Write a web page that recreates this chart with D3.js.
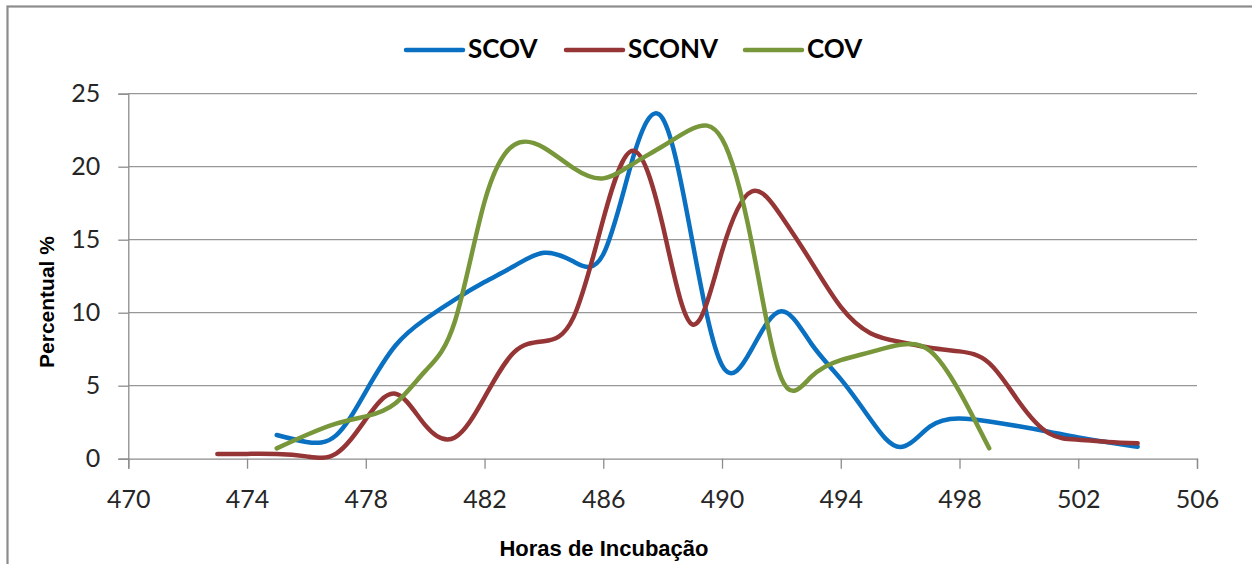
<!DOCTYPE html>
<html>
<head>
<meta charset="utf-8">
<script src="https://cdn.jsdelivr.net/npm/d3@7"></script>
<style>
  html, body { margin: 0; padding: 0; background: #ffffff; }
  svg { display: block; }
</style>
</head>
<body>
<svg id="chart" width="1252" height="564"></svg>
<script>
// Hours of incubation sampled for each group
const sconvHours = [473, 474, 475, 476, 477, 478, 479, 480, 481, 482, 483, 484, 485, 486, 487, 488,
                    489, 490, 491, 492, 493, 494, 495, 496, 497, 498, 499, 500, 501, 502, 503, 504];
const scovHours  = [475, 476, 477, 478, 479, 480, 481, 482, 483, 484, 485, 486, 487, 488, 489, 490,
                    491, 492, 493, 494, 495, 496, 497, 498, 499, 500, 501, 502, 503, 504];
const covHours   = [475, 476, 477, 478, 479, 480, 481, 482, 483, 484, 485, 486, 487, 488, 489, 490,
                    491, 492, 493, 494, 495, 496, 497, 498, 499];

// Percentage hatched at each hour
const scovValues  = [1.62, 1.15, 1.6, 4.6, 7.75, 9.55, 10.9, 12.1, 13.2, 14.1, 13.5, 14.0, 20.6, 23.3, 14.9, 6.4,
                     7.5, 10.1, 7.9, 5.45, 2.7, 0.8, 2.2, 2.76, 2.55, 2.22, 1.85, 1.45, 1.12, 0.82];
const sconvValues = [0.33, 0.33, 0.32, 0.16, 0.35, 2.7, 4.45, 2.3, 1.45, 4.2, 7.3, 8.05, 9.7, 16.4, 21.1, 16.0,
                     9.2, 14.2, 18.3, 16.6, 13.5, 10.4, 8.6, 8.0, 7.6, 7.35, 6.55, 3.9, 1.75, 1.3, 1.15, 1.05];
const covValues   = [0.71, 1.62, 2.4, 2.9, 3.8, 6.0, 9.4, 17.6, 21.5, 21.3, 19.9, 19.2, 20.2, 21.4, 22.6, 21.9,
                     14.8, 5.5, 5.6, 6.75, 7.3, 7.8, 7.4, 4.6, 0.71];

// Axis ticks
const xTicks = [470, 474, 478, 482, 486, 490, 494, 498, 502, 506];
const yTicks = [0, 5, 10, 15, 20, 25];

const seriesNames  = ["SCOV", "SCONV", "COV"];
const seriesColors = ["#0a70c2", "#953535", "#78963a"];

const series = [
  { name: seriesNames[0], color: seriesColors[0], pts: scovHours.map((h, i) => [h, scovValues[i]]) },
  { name: seriesNames[1], color: seriesColors[1], pts: sconvHours.map((h, i) => [h, sconvValues[i]]) },
  { name: seriesNames[2], color: seriesColors[2], pts: covHours.map((h, i) => [h, covValues[i]]) }
];

const svg = d3.select("#chart");

// Outer chart frame
svg.append("rect")
  .attr("x", 7.5).attr("y", 6.5)
  .attr("width", 1300).attr("height", 600)
  .attr("fill", "#ffffff")
  .attr("stroke", "#8c8c8c")
  .attr("stroke-width", 2.2);

const x = d3.scaleLinear().domain([470, 506]).range([128.3, 1197]);
const y = d3.scaleLinear().domain([0, 25]).range([458.7, 93.7]);

// Horizontal gridlines
svg.append("g")
  .selectAll("line")
  .data(yTicks.filter(d => d > 0))
  .join("line")
  .attr("x1", x(470)).attr("x2", x(506))
  .attr("y1", d => y(d)).attr("y2", d => y(d))
  .attr("stroke", "#979797")
  .attr("stroke-width", 1.3);

// Y axis
const yAxis = svg.append("g")
  .attr("transform", `translate(${x(470)},0)`)
  .call(d3.axisLeft(y).tickValues(yTicks).tickSize(10).tickPadding(18));
yAxis.select(".domain").attr("stroke", "#8c8c8c").attr("stroke-width", 1.3);
yAxis.selectAll(".tick line").attr("stroke", "#8c8c8c").attr("stroke-width", 1.3);
yAxis.selectAll(".tick text")
  .attr("font-family", "Lato, 'Noto Sans', sans-serif")
  .attr("font-size", 25)
  .attr("fill", "#262626");

// X axis
const xAxis = svg.append("g")
  .attr("transform", `translate(0,${y(0)})`)
  .call(d3.axisBottom(x).tickValues(xTicks).tickSize(10).tickPadding(22));
xAxis.select(".domain").attr("stroke", "#8c8c8c").attr("stroke-width", 1.3);
xAxis.selectAll(".tick line").attr("stroke", "#8c8c8c").attr("stroke-width", 1.3);
xAxis.selectAll(".tick text")
  .attr("font-family", "Lato, 'Noto Sans', sans-serif")
  .attr("font-size", 25)
  .attr("fill", "#262626");

// Smoothed series lines
const line = d3.line()
  .x(d => x(d[0]))
  .y(d => y(d[1]))
  .curve(d3.curveNatural);

svg.append("g")
  .selectAll("path")
  .data(series)
  .join("path")
  .attr("d", d => line(d.pts))
  .attr("fill", "none")
  .attr("stroke", d => d.color)
  .attr("stroke-width", 4.5)
  .attr("stroke-linecap", "round")
  .attr("stroke-linejoin", "round");

// Legend
const legendX = [406, 566, 745];
const legend = svg.append("g")
  .selectAll("g")
  .data(series)
  .join("g")
  .attr("transform", (d, i) => `translate(${legendX[i]},50)`);
legend.append("line")
  .attr("x1", 0).attr("x2", 57)
  .attr("y1", 0).attr("y2", 0)
  .attr("stroke", d => d.color)
  .attr("stroke-width", 4.5)
  .attr("stroke-linecap", "round");
legend.append("text")
  .attr("x", 62).attr("y", 7.5)
  .attr("font-family", "Lato, 'Noto Sans', sans-serif")
  .attr("font-weight", "bold")
  .attr("font-size", 26)
  .attr("fill", "#000000")
  .text(d => d.name);

// Axis titles
svg.append("text")
  .attr("x", 604).attr("y", 556)
  .attr("text-anchor", "middle")
  .attr("font-family", "'Liberation Sans', Arial, sans-serif")
  .attr("font-weight", "bold")
  .attr("font-size", 22)
  .attr("fill", "#000000")
  .text("Horas de Incubação");

svg.append("text")
  .attr("transform", "translate(54,302) rotate(-90)")
  .attr("text-anchor", "middle")
  .attr("font-family", "'Liberation Sans', Arial, sans-serif")
  .attr("font-weight", "bold")
  .attr("font-size", 21)
  .attr("fill", "#000000")
  .text("Percentual %");
</script>
</body>
</html>
